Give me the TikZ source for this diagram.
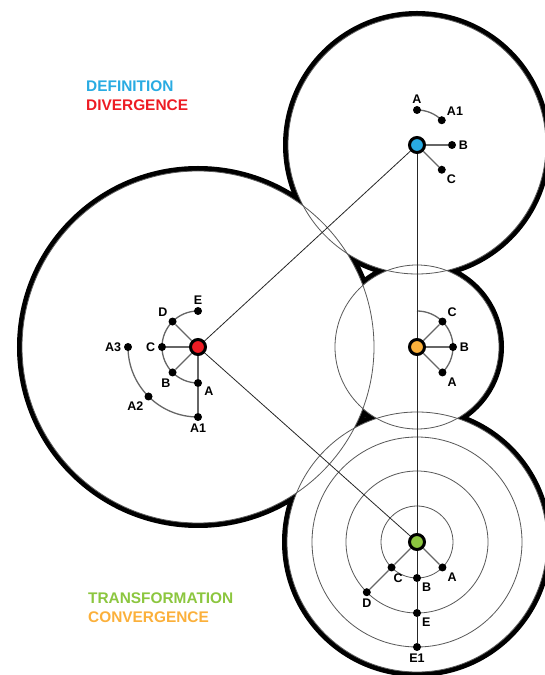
\documentclass[tikz,border=0pt]{standalone}
\usepackage{fontspec}
\setsansfont{Liberation Sans}
\usepackage{tikz}

\definecolor{defblue}{RGB}{41,171,226}
\definecolor{divred}{RGB}{237,28,36}
\definecolor{trgreen}{RGB}{140,198,63}
\definecolor{convorange}{RGB}{251,176,59}

\begin{document}
\begin{tikzpicture}[x=1pt, y=1pt,
    hub/.style={circle, draw, line width=3pt, minimum size=15pt, inner sep=0pt},
    dot/.style={circle, fill=black, minimum size=8pt, inner sep=0pt},
    lbl/.style={font=\sffamily\bfseries\fontsize{12.5}{13}\selectfont, inner sep=1pt},
    title/.style={font=\sffamily\bfseries\fontsize{15.4}{18}\selectfont, anchor=base west, inner sep=0pt},
    arcline/.style={black!60, line width=1.3pt},
    spoke/.style={black!60, line width=1.3pt},
    link/.style={black!85, line width=0.8pt},
    ring/.style={black!65, line width=0.8pt},
    every label/.style={lbl}, label distance=1.5pt]

    \useasboundingbox (0,0) rectangle (545,675);

    \coordinate (pBlue) at (417,530);
    \coordinate (pRed) at (198,328);
    \coordinate (pOrange) at (417,328);
    \coordinate (pGreen) at (417,133);

    \foreach \c/\r in {pBlue/129, pRed/176, pOrange/82, pGreen/130}
        \draw[line width=10pt] (\c) circle[radius=\r];
    \foreach \c/\r in {pBlue/129, pRed/176, pOrange/82, pGreen/130}
        \fill[white] (\c) circle[radius=\r];
    \foreach \c/\r in {pBlue/129, pRed/176, pOrange/82, pGreen/130, pGreen/36, pGreen/71, pGreen/105}
        \draw[ring] (\c) circle[radius=\r];

    \draw[arcline] (pBlue) ++(90:35) arc[start angle=90, end angle=45, radius=35];
    \draw[arcline] (pRed) ++(90:36) arc[start angle=90, end angle=270, radius=36];
    \draw[arcline] (pRed) ++(180:70) arc[start angle=180, end angle=270, radius=70];
    \draw[arcline] (pOrange) ++(90:36) arc[start angle=90, end angle=-45, radius=36];

    \node[hub, fill=defblue] (blue) at (pBlue) {};
    \node[hub, fill=divred] (red) at (pRed) {};
    \node[hub, fill=convorange] (orange) at (pOrange) {};
    \node[hub, fill=trgreen] (green) at (pGreen) {};

    \path (pBlue) ++(90:35) node[dot, label=above:A] (bA) {};
    \path (pBlue) ++(45:35) node[dot, label=above right:A1] (bA1) {};
    \path (pBlue) ++(0:35) node[dot, label=right:B] (bB) {};
    \path (pBlue) ++(-45:35) node[dot, label=below right:C] (bC) {};

    \path (pRed) ++(90:36) node[dot, label=above:E] (rE) {};
    \path (pRed) ++(135:36) node[dot, label=above left:D] (rD) {};
    \path (pRed) ++(180:36) node[dot, label=left:C] (rC) {};
    \path (pRed) ++(225:36) node[dot, label=-100:B] (rB) {};
    \path (pRed) ++(270:36) node[dot, label=-25:A] (rA) {};
    \path (pRed) ++(270:70) node[dot, label=below:A1] (rA1) {};
    \path (pRed) ++(225:70) node[dot, label=below left:A2] (rA2) {};
    \path (pRed) ++(180:70) node[dot, label=left:A3] (rA3) {};

    \path (pOrange) ++(45:36) node[dot, label=above right:C] (oC) {};
    \path (pOrange) ++(0:36) node[dot, label=right:B] (oB) {};
    \path (pOrange) ++(-45:36) node[dot, label=below right:A] (oA) {};

    \path (pGreen) ++(-45:36) node[dot, label=below right:A] (gA) {};
    \path (pGreen) ++(-90:36) node[dot, label=below right:B] (gB) {};
    \path (pGreen) ++(-135:36) node[dot, label=-80:C] (gC) {};
    \path (pGreen) ++(-135:71) node[dot, label=below:D] (gD) {};
    \path (pGreen) ++(-90:71) node[dot, label=below right:E] (gE) {};
    \path (pGreen) ++(-90:105) node[dot, label=below:E1] (gE1) {};

    \draw[link] (red) -- (blue);
    \draw[link] (red) -- (green);
    \draw[link] (blue) -- (orange) -- (green) -- (gB) -- (gE) -- (gE1);

    \draw[spoke] (blue) -- (bB);
    \draw[spoke] (blue) -- (bC);
    \draw[spoke] (red) -- (rD);
    \draw[spoke] (red) -- (rC);
    \draw[spoke] (red) -- (rB);
    \draw[spoke] (red) -- (rA) -- (rA1);
    \draw[spoke] (orange) -- (oC);
    \draw[spoke] (orange) -- (oB);
    \draw[spoke] (orange) -- (oA);
    \draw[spoke] (green) -- (gA);
    \draw[spoke] (green) -- (gC) -- (gD);

    \node[title, text=defblue] (tDef) at (86,583) {DEFINITION};
    \node[title, text=divred] (tDiv) at (86,564) {DIVERGENCE};
    \node[title, text=trgreen] (tTrans) at (88,71) {TRANSFORMATION};
    \node[title, text=convorange] (tConv) at (88,52) {CONVERGENCE};

\end{tikzpicture}
\end{document}
